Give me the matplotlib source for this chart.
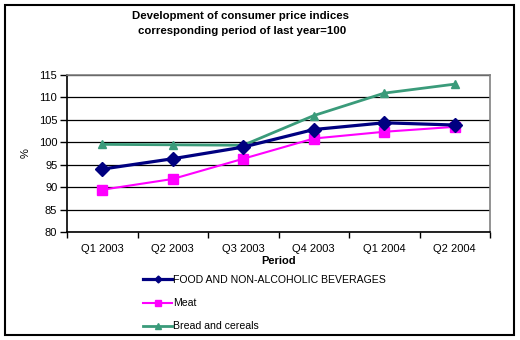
import matplotlib
matplotlib.use("Agg")
import matplotlib.pyplot as plt
from matplotlib.lines import Line2D
from matplotlib.patches import Rectangle

plt.rcParams['font.family'] = ['Liberation Sans', 'DejaVu Sans']

periods = ["Q1 2003", "Q2 2003", "Q3 2003", "Q4 2003", "Q1 2004", "Q2 2004"]
food = [94.0, 96.3, 98.9, 102.8, 104.3, 103.8]
meat = [89.4, 91.8, 96.3, 100.8, 102.3, 103.4]
bread = [99.5, 99.4, 99.3, 105.9, 110.9, 112.9]
series_names = ["FOOD AND NON-ALCOHOLIC BEVERAGES", "Meat", "Bread and cereals"]
yticks = [80, 85, 90, 95, 100, 105, 110, 115]

W, H = 520, 340
fig = plt.figure(figsize=(W / 100, H / 100), dpi=100)
fig.patch.set_facecolor('white')

def fx(px):
    return px / W

def fy(py):
    return 1 - py / H

# outer frame
fig.patches.append(Rectangle((fx(5), fy(335)), fx(509), (330) / H, transform=fig.transFigure,
                             fill=False, edgecolor='black', linewidth=1.5))

ax = fig.add_axes([fx(67), fy(232), fx(490 - 67), (232 - 74.7) / H])
x = list(range(len(periods)))

navy = '#000080'
mag = '#FF00FF'
green = '#3A9B7A'

ax.plot(x, food, color=navy, lw=2.3, marker='D', markersize=7, zorder=5)
ax.plot(x, meat, color=mag, lw=1.5, marker='s', markersize=7, zorder=4)
ax.plot(x, bread, color=green, lw=2.0, marker='^', markersize=5.5, zorder=3)

ax.set_xlim(-0.5, len(periods) - 0.5)
ax.set_ylim(80, 115)
ax.set_yticks(yticks)
ax.set_yticklabels([str(v) for v in yticks], fontsize=8)
ax.set_xticks(x)
ax.set_xticklabels(periods, fontsize=8)
ax.set_xticks([i - 0.5 for i in range(len(periods) + 1)], minor=True)
ax.tick_params(axis='x', which='major', length=0, pad=9)
ax.tick_params(axis='x', which='minor', length=4, width=1, direction='out', color='black')
ax.tick_params(axis='y', which='major', length=5, width=1, direction='out', pad=2)

ax.yaxis.grid(True, color='black', linewidth=0.9)
ax.set_axisbelow(True)
for s in ['top', 'right']:
    ax.spines[s].set_color('#808080')
    ax.spines[s].set_linewidth(1.2)
for s in ['left', 'bottom']:
    ax.spines[s].set_color('black')
    ax.spines[s].set_linewidth(1.2)

ax.set_xlabel("Period", fontsize=8, fontweight='bold', labelpad=1)
ax.set_ylabel("%", fontsize=8, labelpad=6)

fig.text(fx(241), fy(16), "Development of consumer price indices", ha='center', va='center',
         fontsize=8.2, fontweight='bold')
fig.text(fx(242), fy(31), "corresponding period of last year=100", ha='center', va='center',
         fontsize=8.2, fontweight='bold')

handles = [
    Line2D([], [], color=navy, lw=2.3, marker='D', markersize=3.5),
    Line2D([], [], color=mag, lw=1.5, marker='s', markersize=4.5),
    Line2D([], [], color=green, lw=2.0, marker='^', markersize=5),
]
fig.legend(handles, series_names, loc='upper left', bbox_to_anchor=(fx(143), fy(275)),
           frameon=False, fontsize=7.6, handlelength=2.75, handletextpad=0.1,
           labelspacing=1.25, borderpad=0, borderaxespad=0)

fig.savefig("out.png", dpi=100)
